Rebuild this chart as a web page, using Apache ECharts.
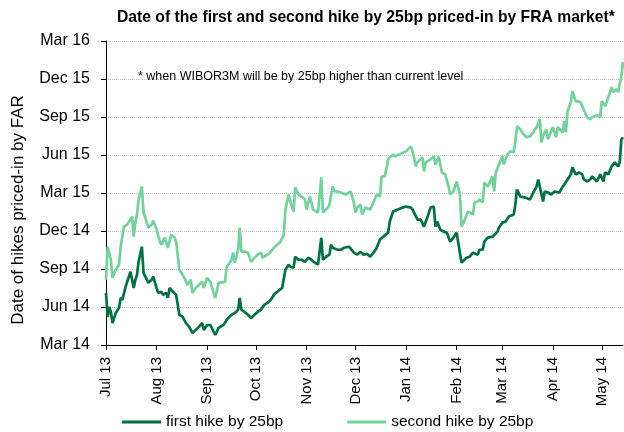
<!DOCTYPE html>
<html>
<head>
<meta charset="utf-8">
<script src="https://cdn.jsdelivr.net/npm/echarts@6/dist/echarts.min.js"></script>
<style>
html, body { margin: 0; padding: 0; background: #fff; }
#chart { width: 624px; height: 432px; }
</style>
</head>
<body>
<div id="chart"></div>
<script>
// x ticks: month starts
const xTickDates = ['2013-07-01', '2013-08-01', '2013-09-01', '2013-10-01', '2013-11-01', '2013-12-01',
    '2014-01-01', '2014-02-01', '2014-03-01', '2014-04-01', '2014-05-01'];
const xTickLabels = ['Jul 13', 'Aug 13', 'Sep 13', 'Oct 13', 'Nov 13', 'Dec 13',
    'Jan 14', 'Feb 14', 'Mar 14', 'Apr 14', 'May 14'];
// y axis: months after Mar 14, one tick per quarter
const yTickLabels = ['Mar 14', 'Jun 14', 'Sep 14', 'Dec 14', 'Mar 15', 'Jun 15', 'Sep 15', 'Dec 15', 'Mar 16'];

const firstDates = [
    '2013-07-01', '2013-07-02', '2013-07-03', '2013-07-04', '2013-07-05', '2013-07-07', '2013-07-09', '2013-07-10',
    '2013-07-11', '2013-07-13', '2013-07-14', '2013-07-16', '2013-07-18', '2013-07-19', '2013-07-20', '2013-07-21',
    '2013-07-23', '2013-07-24', '2013-07-27', '2013-07-29', '2013-07-30', '2013-08-01', '2013-08-02', '2013-08-04',
    '2013-08-05', '2013-08-07', '2013-08-08', '2013-08-09', '2013-08-11', '2013-08-13', '2013-08-15', '2013-08-17',
    '2013-08-19', '2013-08-21', '2013-08-23', '2013-08-25', '2013-08-27', '2013-08-29', '2013-08-30', '2013-09-01',
    '2013-09-03', '2013-09-04', '2013-09-06', '2013-09-08', '2013-09-09', '2013-09-11', '2013-09-13', '2013-09-14',
    '2013-09-16', '2013-09-18', '2013-09-20', '2013-09-21', '2013-09-22', '2013-09-24', '2013-09-26', '2013-09-28',
    '2013-09-30', '2013-10-02', '2013-10-04', '2013-10-06', '2013-10-08', '2013-10-10', '2013-10-12', '2013-10-14',
    '2013-10-17', '2013-10-19', '2013-10-21', '2013-10-22', '2013-10-24', '2013-10-25', '2013-10-27', '2013-10-29',
    '2013-10-31', '2013-11-02', '2013-11-04', '2013-11-06', '2013-11-08', '2013-11-10', '2013-11-11', '2013-11-13',
    '2013-11-15', '2013-11-16', '2013-11-17', '2013-11-20', '2013-11-22', '2013-11-24', '2013-11-27', '2013-11-28',
    '2013-11-30', '2013-12-02', '2013-12-04', '2013-12-06', '2013-12-08', '2013-12-10', '2013-12-12', '2013-12-14',
    '2013-12-16', '2013-12-18', '2013-12-21', '2013-12-22', '2013-12-24', '2013-12-27', '2013-12-30', '2014-01-01',
    '2014-01-04', '2014-01-05', '2014-01-08', '2014-01-10', '2014-01-12', '2014-01-14', '2014-01-16', '2014-01-18',
    '2014-01-19', '2014-01-20', '2014-01-22', '2014-01-24', '2014-01-26', '2014-01-28', '2014-01-30', '2014-02-01',
    '2014-02-03', '2014-02-04', '2014-02-07', '2014-02-09', '2014-02-11', '2014-02-14', '2014-02-15', '2014-02-17',
    '2014-02-18', '2014-02-20', '2014-02-23', '2014-02-24', '2014-02-26', '2014-02-27', '2014-03-01', '2014-03-03',
    '2014-03-05', '2014-03-08', '2014-03-09', '2014-03-10', '2014-03-12', '2014-03-15', '2014-03-18', '2014-03-20',
    '2014-03-22', '2014-03-23', '2014-03-26', '2014-03-27', '2014-03-29', '2014-03-31', '2014-04-02', '2014-04-05',
    '2014-04-07', '2014-04-08', '2014-04-10', '2014-04-12', '2014-04-13', '2014-04-15', '2014-04-17', '2014-04-19',
    '2014-04-20', '2014-04-22', '2014-04-24', '2014-04-25', '2014-04-28', '2014-04-30', '2014-05-02', '2014-05-03',
    '2014-05-05', '2014-05-07', '2014-05-09', '2014-05-11', '2014-05-12', '2014-05-13', '2014-05-14'
];
const firstValues = [
    4.12, 2.22, 3.01, 2.61, 1.74, 2.53, 2.93, 3.72,
    3.56, 4.59, 4.99, 5.78, 4.51, 5.15, 5.54, 6.57,
    7.76, 5.70, 4.91, 5.15, 5.39, 4.51, 4.12, 4.20,
    3.96, 4.12, 3.72, 4.51, 4.20, 3.96, 2.38, 2.22,
    1.74, 1.43, 0.95, 1.19, 1.43, 1.74, 1.19, 1.58,
    1.58, 1.43, 0.79, 1.35, 1.43, 1.58, 1.98, 2.14,
    2.38, 2.53, 2.77, 3.72, 2.77, 2.61, 2.38, 2.14,
    2.38, 2.61, 2.77, 3.17, 3.33, 3.56, 3.96, 4.20,
    4.51, 5.94, 6.34, 6.18, 6.10, 6.97, 6.73, 6.73,
    6.57, 6.89, 6.73, 6.50, 6.34, 8.45, 6.73, 6.97,
    7.13, 7.92, 7.68, 7.52, 7.52, 7.68, 7.76, 7.68,
    7.29, 7.13, 7.37, 7.13, 7.21, 6.97, 7.29, 7.68,
    8.32, 8.55, 8.87, 9.74, 10.53, 10.69, 10.85, 10.93,
    10.85, 10.69, 9.90, 9.90, 9.35, 10.06, 10.85, 10.93,
    9.35, 9.74, 9.11, 8.95, 8.87, 8.16, 8.48, 8.87,
    7.29, 6.50, 6.89, 6.97, 7.29, 7.13, 7.52, 7.52,
    8.16, 8.48, 8.55, 8.48, 8.95, 9.27, 9.66, 9.74,
    10.14, 10.30, 11.09, 12.28, 11.72, 11.64, 11.49, 12.04,
    12.51, 13.07, 11.33, 12.12, 12.04, 11.88, 12.12, 12.04,
    12.51, 12.67, 13.07, 13.47, 14.02, 13.47, 13.62, 13.47,
    13.07, 12.91, 13.07, 13.31, 12.91, 13.47, 12.91, 13.62,
    13.47, 14.10, 14.42, 14.10, 14.42, 16.24, 16.40
];

const secondDates = [
    '2013-07-01', '2013-07-02', '2013-07-04', '2013-07-05', '2013-07-07', '2013-07-09', '2013-07-10', '2013-07-11',
    '2013-07-12', '2013-07-14', '2013-07-15', '2013-07-17', '2013-07-18', '2013-07-19', '2013-07-20', '2013-07-21',
    '2013-07-23', '2013-07-24', '2013-07-27', '2013-07-29', '2013-07-30', '2013-08-01', '2013-08-03', '2013-08-04',
    '2013-08-06', '2013-08-08', '2013-08-10', '2013-08-12', '2013-08-13', '2013-08-15', '2013-08-17', '2013-08-18',
    '2013-08-20', '2013-08-22', '2013-08-23', '2013-08-25', '2013-08-27', '2013-08-29', '2013-08-30', '2013-09-01',
    '2013-09-03', '2013-09-04', '2013-09-06', '2013-09-08', '2013-09-09', '2013-09-12', '2013-09-13', '2013-09-14',
    '2013-09-16', '2013-09-17', '2013-09-18', '2013-09-20', '2013-09-21', '2013-09-22', '2013-09-24', '2013-09-26',
    '2013-09-28', '2013-09-30', '2013-10-02', '2013-10-04', '2013-10-05', '2013-10-08', '2013-10-10', '2013-10-12',
    '2013-10-14', '2013-10-16', '2013-10-18', '2013-10-19', '2013-10-21', '2013-10-22', '2013-10-24', '2013-10-25',
    '2013-10-27', '2013-10-29', '2013-10-31', '2013-11-01', '2013-11-03', '2013-11-04', '2013-11-05', '2013-11-08',
    '2013-11-10', '2013-11-11', '2013-11-12', '2013-11-14', '2013-11-15', '2013-11-17', '2013-11-18', '2013-11-20',
    '2013-11-22', '2013-11-25', '2013-11-28', '2013-11-30', '2013-12-01', '2013-12-02', '2013-12-04', '2013-12-05',
    '2013-12-07', '2013-12-10', '2013-12-12', '2013-12-14', '2013-12-16', '2013-12-17', '2013-12-19', '2013-12-21',
    '2013-12-22', '2013-12-24', '2013-12-25', '2013-12-28', '2014-01-01', '2014-01-04', '2014-01-05', '2014-01-07',
    '2014-01-08', '2014-01-11', '2014-01-12', '2014-01-13', '2014-01-16', '2014-01-18', '2014-01-19', '2014-01-21',
    '2014-01-23', '2014-01-25', '2014-01-27', '2014-01-28', '2014-01-30', '2014-02-01', '2014-02-03', '2014-02-04',
    '2014-02-06', '2014-02-08', '2014-02-11', '2014-02-12', '2014-02-14', '2014-02-15', '2014-02-17', '2014-02-18',
    '2014-02-20', '2014-02-23', '2014-02-24', '2014-02-25', '2014-02-27', '2014-03-01', '2014-03-02', '2014-03-04',
    '2014-03-06', '2014-03-08', '2014-03-09', '2014-03-10', '2014-03-12', '2014-03-14', '2014-03-16', '2014-03-18',
    '2014-03-20', '2014-03-22', '2014-03-24', '2014-03-25', '2014-03-26', '2014-03-28', '2014-03-29', '2014-03-31',
    '2014-04-01', '2014-04-03', '2014-04-04', '2014-04-07', '2014-04-08', '2014-04-09', '2014-04-10', '2014-04-12',
    '2014-04-13', '2014-04-15', '2014-04-18', '2014-04-19', '2014-04-22', '2014-04-24', '2014-04-25', '2014-04-28',
    '2014-04-30', '2014-05-01', '2014-05-03', '2014-05-04', '2014-05-07', '2014-05-08', '2014-05-10', '2014-05-11',
    '2014-05-13', '2014-05-14'
];
const secondValues = [
    5.15, 7.76, 6.73, 5.31, 5.94, 6.34, 7.76, 7.68,
    9.35, 9.50, 9.35, 10.14, 8.55, 9.66, 10.30, 11.49,
    12.51, 10.46, 9.27, 9.50, 9.82, 9.11, 8.16, 7.92,
    8.48, 7.68, 8.71, 8.48, 8.16, 5.94, 5.54, 5.31,
    4.75, 5.15, 4.12, 4.51, 4.75, 4.99, 4.51, 5.31,
    4.99, 4.51, 3.72, 4.91, 4.99, 4.99, 6.18, 6.34,
    6.73, 7.29, 6.50, 7.52, 9.27, 7.37, 7.37, 7.29,
    6.57, 6.89, 7.13, 7.29, 6.89, 7.13, 7.37, 7.68,
    7.92, 8.16, 8.71, 10.69, 11.88, 11.33, 10.53, 12.44,
    11.88, 11.72, 11.49, 10.69, 11.72, 11.25, 10.69, 10.46,
    13.23, 10.46, 10.53, 10.85, 11.09, 12.51, 12.12, 12.12,
    12.04, 11.88, 12.12, 11.25, 10.46, 10.85, 11.09, 10.30,
    10.85, 10.69, 11.25, 11.88, 11.72, 13.31, 13.31, 14.65,
    14.81, 15.05, 14.89, 15.05, 15.29, 15.68, 15.29, 14.10,
    14.42, 14.81, 13.70, 14.42, 14.65, 14.89, 14.26, 14.89,
    13.62, 13.47, 12.51, 11.88, 12.12, 12.91, 11.88, 9.35,
    9.90, 10.53, 10.30, 11.25, 11.33, 11.49, 11.25, 12.83,
    12.51, 13.31, 12.12, 13.62, 14.26, 14.89, 14.26, 15.05,
    15.29, 15.21, 16.08, 17.27, 17.03, 16.63, 16.40, 16.48,
    16.79, 17.19, 17.82, 16.00, 16.48, 17.03, 16.24, 16.87,
    17.19, 16.40, 17.19, 16.79, 17.66, 16.79, 18.46, 19.17,
    20.04, 19.25, 19.17, 18.85, 17.98, 17.82, 17.98, 18.14,
    17.98, 19.25, 18.85, 19.17, 20.36, 19.96, 20.20, 19.96,
    21.23, 22.34
];

const font = "'Liberation Sans', Arial, sans-serif";

function toTime(s) {
    const p = s.split('-').map(Number);
    return Date.UTC(p[0], p[1] - 1, p[2]);
}
const xTickTimes = xTickDates.map(toTime);

function pairs(dates, values) {
    return dates.map((d, i) => [toTime(d), values[i]]);
}

const chart = echarts.init(document.getElementById('chart'));
chart.setOption({
    animation: false,
    textStyle: { fontFamily: font },
    title: [
        {
            text: 'Date of the first and second hike by 25bp priced-in by FRA market*',
            left: 112,
            top: 5,
            textStyle: { fontFamily: font, fontSize: 15.7, fontWeight: 'bold', color: '#000' }
        },
        {
            text: '* when WIBOR3M will be by 25bp higher than current level',
            left: 133,
            top: 65,
            textStyle: { fontFamily: font, fontSize: 12.5, fontWeight: 'normal', color: '#000' }
        }
    ],
    legend: {
        left: 122,
        top: 414,
        padding: 0,
        itemWidth: 39,
        itemHeight: 3,
        itemGap: 64,
        icon: 'rect',
        textStyle: { fontFamily: font, fontSize: 15.5, color: '#000' }
    },
    grid: { left: 106, right: 1, top: 41, bottom: 87, outerBoundsMode: 'none' },
    xAxis: {
        // dates as timestamps on a value axis, ticks at month starts
        type: 'value',
        min: toTime('2013-07-01'),
        max: toTime('2014-05-14'),
        axisLine: { lineStyle: { color: '#000', width: 1 } },
        axisTick: { show: true, customValues: xTickTimes, length: 5, lineStyle: { color: '#000' } },
        axisLabel: {
            customValues: xTickTimes,
            rotate: 90,
            margin: 12,
            fontFamily: font,
            fontSize: 15,
            color: '#000',
            formatter: function (v) {
                let best = 0;
                xTickTimes.forEach((t, i) => {
                    if (Math.abs(t - v) < Math.abs(xTickTimes[best] - v)) best = i;
                });
                return xTickLabels[best];
            }
        },
        splitLine: { show: false }
    },
    yAxis: {
        type: 'value',
        min: 0,
        max: 24,
        interval: 3,
        name: 'Date of hikes priced-in by FAR',
        nameLocation: 'middle',
        nameGap: 79,
        nameRotate: 90,
        nameTextStyle: { fontFamily: font, fontSize: 17, color: '#000', padding: [0, 34, 0, 0] },
        axisLine: { show: true, lineStyle: { color: '#000', width: 1 } },
        axisTick: { show: true, length: 5, lineStyle: { color: '#000' } },
        axisLabel: {
            fontFamily: font,
            fontSize: 16,
            color: '#000',
            margin: 16,
            formatter: v => yTickLabels[Math.round(v / 3)]
        },
        splitLine: { lineStyle: { type: 'dotted', color: '#c4c4c4' } }
    },
    series: [
        {
            name: 'first hike by 25bp',
            type: 'line',
            symbol: 'none',
            data: pairs(firstDates, firstValues),
            lineStyle: { color: '#006f41', width: 2.7 },
            itemStyle: { color: '#006f41' }
        },
        {
            name: 'second hike by 25bp',
            type: 'line',
            symbol: 'none',
            data: pairs(secondDates, secondValues),
            lineStyle: { color: '#74d19c', width: 2.7 },
            itemStyle: { color: '#74d19c' }
        }
    ]
});
</script>
</body>
</html>
